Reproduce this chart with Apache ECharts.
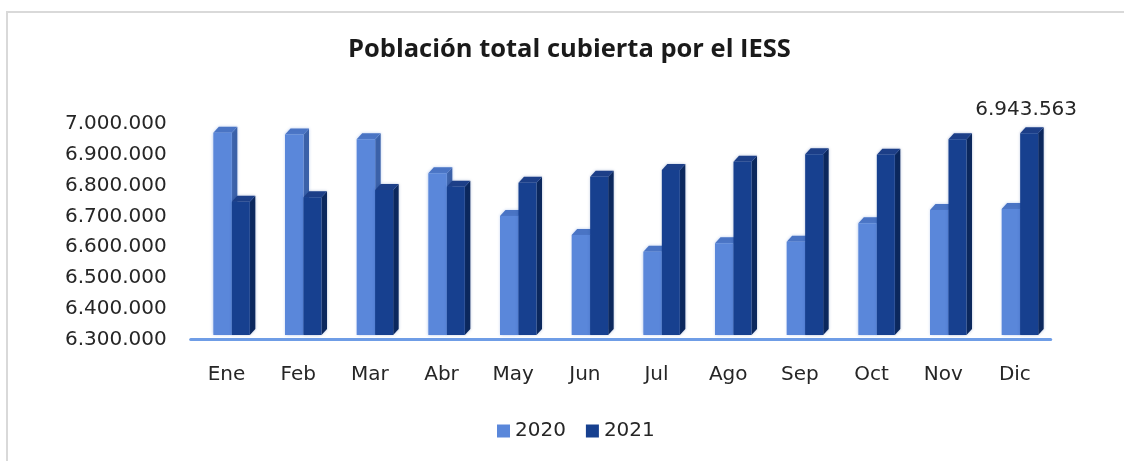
<!DOCTYPE html>
<html>
<head>
<meta charset="utf-8">
<script src="https://cdn.jsdelivr.net/npm/echarts@6/dist/echarts.min.js"></script>
<style>html,body{margin:0;padding:0;background:#fff;}#c{width:1124px;height:461px;}</style>
</head>
<body>
<div id="c"></div>
<script>
const categories = ['Ene','Feb','Mar','Abr','May','Jun','Jul','Ago','Sep','Oct','Nov','Dic'];
const seriesNames = ['2020','2021'];
const values2020 = [6945500, 6940000, 6924400, 6815900, 6679700, 6619100, 6565800, 6592600, 6597700, 6656400, 6698900, 6702000];
const values2021 = [6725300, 6739400, 6762700, 6773200, 6786000, 6805100, 6826500, 6853000, 6876600, 6875000, 6924400, 6943563];
const yTicks = [6300000, 6400000, 6500000, 6600000, 6700000, 6800000, 6900000, 7000000];
const labelIndex2021 = 11;

const YMIN = yTicks[0], YMAX = yTicks[yTicks.length-1], YINT = yTicks[1] - yTicks[0];
function fmt(v){ return String(Math.round(v)).replace(/\B(?=(\d{3})+(?!\d))/g, '.'); }

const chart = echarts.init(document.getElementById('c'), null, {renderer:'canvas'});

const styles = [
  {front:'#5a87da', side:'#3b61a8', top:'#4a74c4', glow:'rgba(90,135,218,0.45)', off:-13.2, w:18.5},
  {front:'#17408f', side:'#0c285d', top:'#1d3f88', glow:'rgba(23,64,143,0.35)', off:5.3, w:18}
];
const K = 1.018, DX = 5.5, DY = 6, FRONT_DROP = 4.5;
const FONT = 'DejaVu Sans';

function makeRender(si){
  return function(params, api){
    const i = api.value(0), v = api.value(1);
    const topPt = api.coord([i, v]);
    const basePt = api.coord([i, YMIN]);
    const bw = api.size([1, 0])[0];
    const s = styles[si];
    const sc = bw / 71.67;
    const x0 = topPt[0] + s.off * sc;
    const w = s.w * sc;
    const yb = basePt[1] - FRONT_DROP;
    const yt = yb - (basePt[1] - topPt[1]) * K;
    const children = [
      {type:'polygon', shape:{points:[[x0+w, yb],[x0+w+DX, yb-DY],[x0+w+DX, yt-DY],[x0+w, yt]]}, style:{fill:s.side, shadowBlur:3, shadowColor:s.glow}},
      {type:'polygon', shape:{points:[[x0, yt],[x0+DX, yt-DY],[x0+w+DX, yt-DY],[x0+w, yt]]}, style:{fill:s.top, shadowBlur:3, shadowColor:s.glow}},
      {type:'rect', shape:{x:x0, y:yt, width:w, height:yb-yt}, style:{fill:s.front, shadowBlur:3, shadowColor:s.glow}}
    ];
    if (si === 1 && i === labelIndex2021) {
      children.push({type:'text', style:{text:fmt(v), x:x0 + w/2 - 3, y:yt - DY - 18, align:'center', verticalAlign:'middle', font:'20px "DejaVu Sans"', fill:'#262626'}});
    }
    return {type:'group', children};
  };
}

const option = {
  animation:false,
  color:[styles[0].front, styles[1].front],
  title:{text:'Población total cubierta por el IESS', left:343, top:32, textStyle:{fontFamily:'Open Sans', fontWeight:'bold', fontSize:25.5, color:'#1a1a1a'}},
  legend:{data:seriesNames, top:416, left:492, itemWidth:13, itemHeight:13, itemGap:20, icon:'rect', textStyle:{fontFamily:FONT, fontSize:20, color:'#262626'}},
  grid:{left:190.7, width:860, top:124, height:215.5},
  xAxis:{type:'category', data:categories, offset:0,
    axisLine:{show:true, lineStyle:{color:'#6f9de6', width:3}},
    axisTick:{show:false},
    axisLabel:{margin:25.5, fontFamily:FONT, fontSize:20, color:'#262626'}},
  yAxis:{type:'value', min:YMIN, max:YMAX, interval:YINT,
    splitLine:{show:false}, axisLine:{show:false}, axisTick:{show:false},
    axisLabel:{margin:24, fontFamily:FONT, fontSize:20, color:'#262626', formatter:fmt}},
  graphic:[{type:'rect', shape:{x:7, y:12, width:1130, height:470}, style:{fill:null, stroke:'#d9d9d9', lineWidth:2}, silent:true}],
  series:[
    {name:seriesNames[0], type:'custom', renderItem:makeRender(0), itemStyle:{color:styles[0].front}, encode:{x:0,y:1}, data:values2020.map((v,i)=>[i,v]), z:2},
    {name:seriesNames[1], type:'custom', renderItem:makeRender(1), itemStyle:{color:styles[1].front}, encode:{x:0,y:1}, data:values2021.map((v,i)=>[i,v]), z:3}
  ]
};
chart.setOption(option);
</script>
</body>
</html>
